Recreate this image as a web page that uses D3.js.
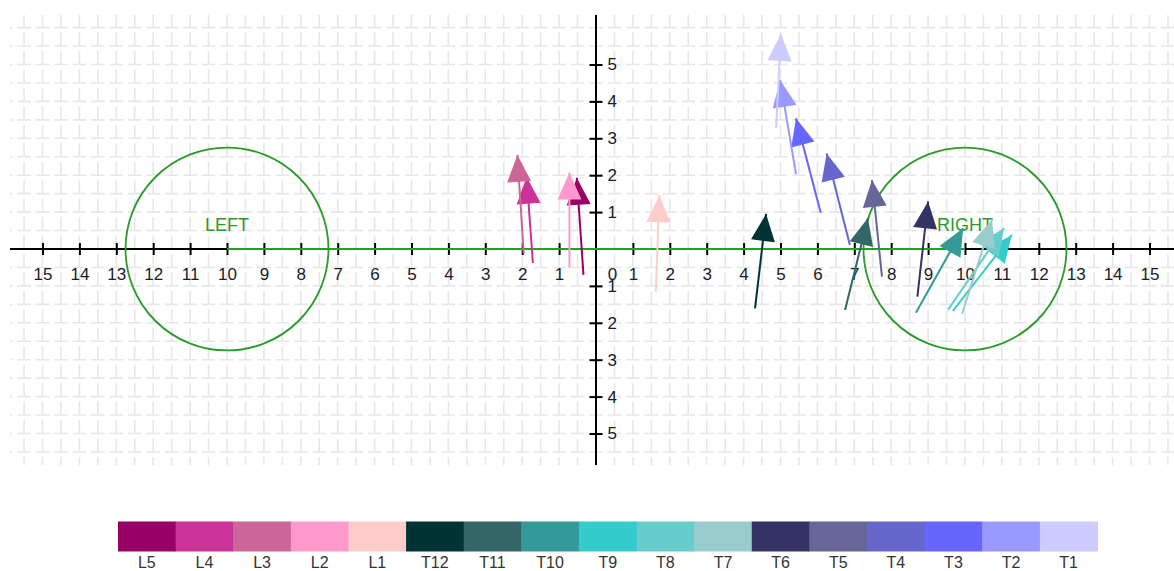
<!DOCTYPE html>
<html>
<head>
<meta charset="utf-8">
<script src="https://cdn.jsdelivr.net/npm/d3@7"></script>
<style>
  body { margin: 0; background: #fff; }
  #chart { width: 1174px; height: 571px; }
  text { font-family: "Liberation Sans", Arial, sans-serif; }
</style>
</head>
<body>
<div id="chart"></div>
<script>
//Series (legend order)
const SERIES = ['L5','L4','L3','L2','L1','T12','T11','T10','T9','T8','T7','T6','T5','T4','T3','T2','T1'];
const COLORS = ['#990066','#CC3399','#CC6699','#FF99CC','#FFCCCC','#003333','#336666','#339999','#33CCCC','#66CCCC','#99CCCC','#333366','#666699','#6666CC','#6666FF','#9999FF','#CCCCFF'];

//Arrow tails and tips (chart units)
const TAIL_X = [-0.34,-1.71,-1.96,-0.72, 1.62, 4.31, 6.75, 8.67, 9.67, 9.54, 9.92, 8.71, 7.75, 6.88, 6.09, 5.42, 4.88];
const TAIL_Y = [-0.70,-0.38,-0.11,-0.51,-1.16,-1.61,-1.65,-1.73,-1.68,-1.65,-1.76,-1.29,-0.75, 0.11, 0.98, 2.03, 3.27];
const TIP_X  = [-0.52,-1.88,-2.13,-0.72, 1.72, 4.61, 7.37, 9.95,11.27,11.06,10.73, 9.00, 7.48, 6.25, 5.42, 4.99, 5.01];
const TIP_Y  = [ 1.93, 1.96, 2.55, 2.07, 1.46, 0.95, 0.84, 0.56, 0.38, 0.57, 0.79, 1.29, 1.87, 2.59, 3.54, 4.58, 5.83];

//Ticks
const X_TICKS = d3.range(-15, 16);
const Y_TICKS = [-5,-4,-3,-2,-1,1,2,3,4,5];

//Zones
const ZONES = [{name: 'LEFT', cx: -10, cy: 0, r: 2.75}, {name: 'RIGHT', cx: 10, cy: 0, r: 2.75}];

const W = 1174, H = 571;
const UNIT = 36.9, OX = 596, OY = 249;

let svg = d3.select('#chart').append('svg')
    .attr('width', W).attr('height', H);

let x = d3.scaleLinear().domain([-15, 15]).range([OX - 15 * UNIT, OX + 15 * UNIT]);
let y = d3.scaleLinear().domain([-5, 5]).range([OY + 5 * UNIT, OY - 5 * UNIT]);

let xMin = x.invert(10), xMax = x.invert(W), yTop = y.invert(15), yBot = y.invert(465);

//Grid
const DASH = UNIT / 2 - 5;
let grid = svg.append('g').attr('stroke', '#e7e7e7').attr('stroke-width', 1.6)
    .attr('stroke-dasharray', DASH + ',5');
let gx = d3.range(Math.ceil(xMin * 2) / 2, xMax, 0.5);
let gy = d3.range(Math.ceil(yBot * 2) / 2, yTop, 0.5);
grid.selectAll('line.v').data(gx).enter().append('line')
    .attr('x1', d => x(d)).attr('x2', d => x(d))
    .attr('y1', y(yTop)).attr('y2', y(yBot))
    .attr('stroke-dashoffset', (y(yTop) - y(Math.floor(yTop * 2) / 2)) * -1 + DASH / 2);
grid.selectAll('line.h').data(gy).enter().append('line')
    .attr('y1', d => y(d)).attr('y2', d => y(d))
    .attr('x1', x(xMin)).attr('x2', x(xMax))
    .attr('stroke-dashoffset', (x(Math.ceil(xMin * 2) / 2) - x(xMin)) * -1 + DASH / 2);

//Axes
svg.append('line').attr('x1', x(xMin)).attr('x2', x(xMax)).attr('y1', y(0)).attr('y2', y(0))
    .attr('stroke', '#000').attr('stroke-width', 2);
svg.append('line').attr('x1', x(0)).attr('x2', x(0)).attr('y1', y(yTop)).attr('y2', y(yBot))
    .attr('stroke', '#000').attr('stroke-width', 2);

let xAxis = svg.append('g')
    .attr('transform', 'translate(0,' + (y(0) - 6) + ')')
    .call(d3.axisBottom(x).tickValues(X_TICKS).tickSize(12).tickPadding(13).tickFormat(d => Math.abs(d)));
xAxis.select('.domain').remove();
xAxis.selectAll('line').attr('stroke', '#000').attr('stroke-width', 2);
xAxis.selectAll('text').attr('font-size', 17).attr('fill', '#1a1a2a').attr('font-family', '"Liberation Sans", Arial, sans-serif');
xAxis.selectAll('.tick').filter(d => d === 0).call(g => {
    g.select('line').remove();
    g.select('text').attr('dx', 16);
});

let yAxis = svg.append('g')
    .attr('transform', 'translate(' + (x(0) - 6.5) + ',0)')
    .call(d3.axisRight(y).tickValues(Y_TICKS).tickSize(13).tickPadding(5).tickFormat(d => Math.abs(d)));
yAxis.select('.domain').remove();
yAxis.selectAll('line').attr('stroke', '#000').attr('stroke-width', 2);
yAxis.selectAll('text').attr('font-size', 17).attr('fill', '#1a1a2a').attr('font-family', '"Liberation Sans", Arial, sans-serif');

//Zones
const GREEN = '#2a9a2a';
svg.append('line')
    .attr('x1', x(ZONES[0].cx)).attr('x2', x(ZONES[1].cx)).attr('y1', y(0)).attr('y2', y(0))
    .attr('stroke', GREEN).attr('stroke-width', 2);
let zones = svg.selectAll('g.zone').data(ZONES).enter().append('g');
zones.append('circle')
    .attr('cx', d => x(d.cx)).attr('cy', d => y(d.cy)).attr('r', d => x(d.r) - x(0))
    .attr('fill', 'none').attr('stroke', GREEN).attr('stroke-width', 1.8);
zones.append('text')
    .attr('x', d => x(d.cx)).attr('y', d => y(d.cy) - 18)
    .attr('text-anchor', 'middle').attr('font-size', 18).attr('fill', GREEN)
    .text(d => d.name);

//Arrows
let arrows = SERIES.map((s, i) => ({ name: s, color: COLORS[i], x0: TAIL_X[i], y0: TAIL_Y[i], x1: TIP_X[i], y1: TIP_Y[i] }));
let ag = svg.selectAll('g.arrow').data(arrows).enter().append('g');
ag.append('line')
    .attr('x1', d => x(d.x0)).attr('y1', d => y(d.y0))
    .attr('x2', d => x(d.x1)).attr('y2', d => y(d.y1))
    .attr('stroke', d => d.color).attr('stroke-width', 2);
ag.append('path')
    .attr('fill', d => d.color)
    .attr('d', function(d) {
        let px0 = x(d.x0), py0 = y(d.y0), px1 = x(d.x1), py1 = y(d.y1);
        let len = Math.hypot(px1 - px0, py1 - py0), ux = (px1 - px0) / len, uy = (py1 - py0) / len;
        let L = 27, hw = 12;
        let bx = px1 - ux * L, by = py1 - uy * L;
        return 'M' + px1 + ',' + py1 +
            'L' + (bx - uy * hw) + ',' + (by + ux * hw) +
            'L' + (bx + uy * hw) + ',' + (by - ux * hw) + 'Z';
    });

//Legend
let lx = d3.scaleBand().domain(SERIES).range([118, 1097.5]);
let lg = svg.append('g');
lg.selectAll('rect').data(arrows).enter().append('rect')
    .attr('x', d => lx(d.name)).attr('y', 521.5)
    .attr('width', lx.bandwidth() + 0.5).attr('height', 30)
    .attr('fill', d => d.color);
lg.selectAll('text').data(arrows).enter().append('text')
    .attr('x', d => lx(d.name) + lx.bandwidth() / 2).attr('y', 568)
    .attr('text-anchor', 'middle').attr('font-size', 16).attr('fill', '#333')
    .text(d => d.name);
</script>
</body>
</html>
